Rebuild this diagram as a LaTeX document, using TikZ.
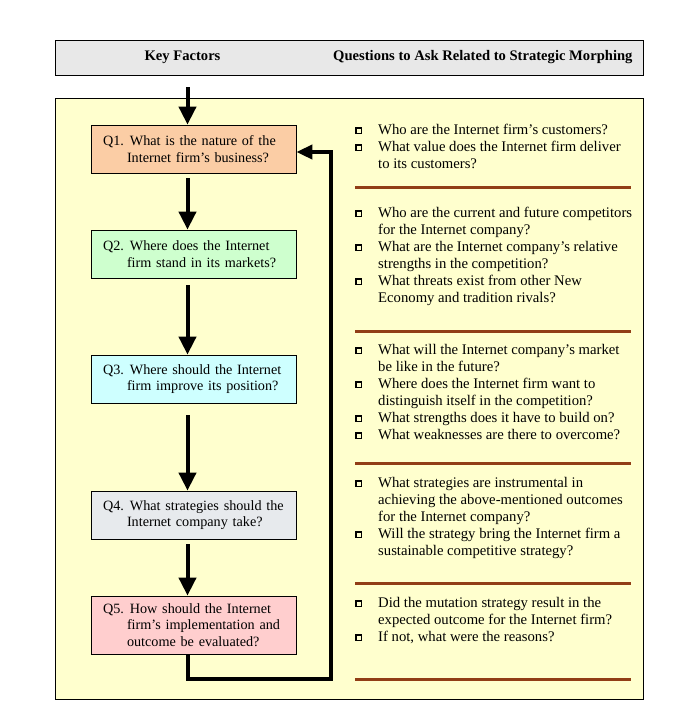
\documentclass[tikz,border=0pt]{standalone}
\usepackage{fontspec}
\setmainfont{Liberation Serif}
\usetikzlibrary{arrows.meta}
\frenchspacing
\definecolor{hdrgray}{RGB}{232,232,232}
\definecolor{yellowbg}{RGB}{255,255,206}
\definecolor{qone}{RGB}{251,205,165}
\definecolor{qtwo}{RGB}{206,255,206}
\definecolor{qthree}{RGB}{206,255,255}
\definecolor{qfour}{RGB}{231,234,237}
\definecolor{qfive}{RGB}{255,206,206}
\definecolor{sepbrown}{RGB}{145,62,22}
\newcommand\qbul{\raisebox{1.2pt}{\setlength{\fboxsep}{0pt}\setlength{\fboxrule}{1.3pt}\fbox{\rule{0pt}{4.2pt}\rule{4.2pt}{0pt}}}}
\newcommand\qlst[1]{\fontsize{14.7}{17}\selectfont\begin{tabular}[t]{@{}p{23pt}@{}l@{}}#1\end{tabular}}
\newcommand\qln[1]{\mbox{#1}}
\newcommand\qgap{\hspace{6pt}}
\begin{document}
\begin{tikzpicture}[x=1pt,y=-1pt,
  frame/.style={draw=black, line width=1pt, inner sep=0pt},
  qbox/.style={draw=black, line width=0.8pt, minimum width=205pt, minimum height=48pt,
    text width=181pt, inner xsep=12pt, inner ysep=0pt, align=left,
    font=\fontsize{14.2}{16.5}\selectfont},
  flow/.style={line width=4pt, -{Triangle[length=18pt,width=17pt]}},
  fb/.style={line width=4pt, line join=miter, -{Triangle[length=16pt,width=14pt]}},
  sepline/.style={draw=sepbrown, line width=3pt},
  hdrtext/.style={anchor=base, inner sep=0pt, font=\fontsize{14.6}{17}\selectfont\bfseries},
  qlist/.style={anchor=base west, inner sep=0pt}]
\useasboundingbox (0,0) rectangle (700,713);
\fill[white] (0,0) rectangle (700,713);
% header
\node[frame, fill=hdrgray, minimum width=588pt, minimum height=35pt] (hdr) at (349,57.5) {};
\node[hdrtext] (kf) at (182.5,60) {Key Factors};
\node[hdrtext, anchor=base west] (qa) at (333,60) {Questions to Ask Related to Strategic Morphing};
% main panel
\node[frame, fill=yellowbg, minimum width=588pt, minimum height=601pt] (main) at (349,398.5) {};
% column coordinate
\coordinate (col) at (187.5,0);
% key factor boxes
\node[qbox, fill=qone] (q1) at (193.5,149) {\qln{Q1.\qgap What is the nature of the}\\\hspace*{24pt}\qln{Internet firm’s business?}};
\node[qbox, fill=qtwo] (q2) at (193.5,254) {\qln{Q2.\qgap Where does the Internet}\\\hspace*{24pt}\qln{firm stand in its markets?}};
\node[qbox, fill=qthree] (q3) at (193.5,379) {\qln{Q3.\qgap Where should the Internet}\\\hspace*{24pt}\qln{firm improve its position?}};
\node[qbox, fill=qfour] (q4) at (193.5,515) {\qln{Q4.\qgap What strategies should the}\\\hspace*{24pt}\qln{Internet company take?}};
\node[qbox, fill=qfive, minimum height=58pt] (q5) at (193.5,625) {\qln{Q5.\qgap How should the Internet}\\\hspace*{24pt}\qln{firm’s implementation and}\\\hspace*{24pt}\qln{outcome be evaluated?}};
% flow arrows
\coordinate (start) at (187.5,87);
\draw[flow] (start) -- (q1.north -| col);
\draw[flow, shorten <=5pt] (q1.south -| col) -- (q2.north -| col);
\draw[flow, shorten <=7pt] (q2.south -| col) -- (q3.north -| col);
\draw[flow, shorten <=12pt] (q3.south -| col) -- (q4.north -| col);
\draw[flow, shorten <=5pt] (q4.south -| col) -- (q5.north -| col);
% feedback loop
\coordinate (fbA) at (188,679);
\coordinate (fbB) at (331,679);
\coordinate (fbC) at (331,152);
\draw[fb] (q5.south -| fbA) -- (fbA) -- (fbB) -- (fbC) -- (q1.east |- fbC);
% question lists
\node[qlist] (g1) at (355,134) {\qlst{\qbul & Who are the Internet firm’s customers?\\
 \qbul & What value does the Internet firm deliver\\
 & to its customers?}};
\draw[sepline] (355,187) -- (631,187);
\node[qlist] (g2) at (355,217) {\qlst{\qbul & Who are the current and future competitors\\
 & for the Internet company?\\
 \qbul & What are the Internet company’s relative\\
 & strengths in the competition?\\
 \qbul & What threats exist from other New\\
 & Economy and tradition rivals?}};
\draw[sepline] (355,331) -- (631,331);
\node[qlist] (g3) at (355,354) {\qlst{\qbul & What will the Internet company’s market\\
 & be like in the future?\\
 \qbul & Where does the Internet firm want to\\
 & distinguish itself in the competition?\\
 \qbul & What strengths does it have to build on?\\
 \qbul & What weaknesses are there to overcome?}};
\draw[sepline] (355,463) -- (631,463);
\node[qlist] (g4) at (355,487) {\qlst{\qbul & What strategies are instrumental in\\
 & achieving the above-mentioned outcomes\\
 & for the Internet company?\\
 \qbul & Will the strategy bring the Internet firm a\\
 & sustainable competitive strategy?}};
\draw[sepline] (355,583) -- (631,583);
\node[qlist] (g5) at (355,607) {\qlst{\qbul & Did the mutation strategy result in the\\
 & expected outcome for the Internet firm?\\
 \qbul & If not, what were the reasons?}};
\draw[sepline] (355,679) -- (631,679);
\end{tikzpicture}
\end{document}
